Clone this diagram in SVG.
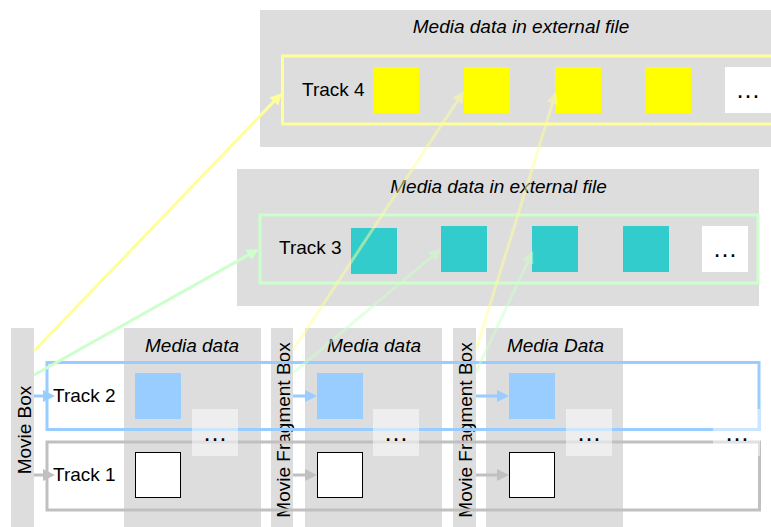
<svg xmlns="http://www.w3.org/2000/svg" width="771" height="527" viewBox="0 0 771 527">
  <style>
    .bg { fill: #dddddd; }
    .lbl { font-family: "Liberation Sans", Arial, sans-serif; font-size: 19px; fill: #000000; }
    .ttl { font-family: "Liberation Sans", Arial, sans-serif; font-size: 19px; font-style: italic; fill: #000000; text-anchor: middle; }
    .vert { font-family: "Liberation Sans", Arial, sans-serif; font-size: 19px; fill: #000000; text-anchor: middle; }
    .dots { font-family: "Liberation Sans", Arial, sans-serif; font-size: 25px; fill: #000000; text-anchor: middle; }
    .trk { fill: none; stroke-width: 3; }
    .y { fill: #ffff00; }
    .t { fill: #33cccc; }
    .b { fill: #99ccff; }
    .w { fill: #ffffff; stroke: #000000; stroke-width: 1; }
    .more { fill: #ffffff; opacity: 0.5; }
    .ln { fill: none; stroke-width: 3; }
  </style>
  <defs>
    <marker id="ah-yellow" viewBox="0 0 12 12" refX="4" refY="6" markerWidth="12" markerHeight="12" markerUnits="userSpaceOnUse" orient="auto">
      <path d="M0,0 L12,6 L0,12 z" fill="#ffff99"/>
    </marker>
    <marker id="ah-green" viewBox="0 0 12 12" refX="4" refY="6" markerWidth="12" markerHeight="12" markerUnits="userSpaceOnUse" orient="auto">
      <path d="M0,0 L12,6 L0,12 z" fill="#ccffcc"/>
    </marker>
    <marker id="ah-blue" viewBox="0 0 12 12" refX="4" refY="6" markerWidth="12" markerHeight="12" markerUnits="userSpaceOnUse" orient="auto">
      <path d="M0,0 L12,6 L0,12 z" fill="#99ccff"/>
    </marker>
    <marker id="ah-gray" viewBox="0 0 12 12" refX="4" refY="6" markerWidth="12" markerHeight="12" markerUnits="userSpaceOnUse" orient="auto">
      <path d="M0,0 L12,6 L0,12 z" fill="#c0c0c0"/>
    </marker>
  </defs>

  <!-- external file holding track 4 -->
  <g id="ext-file-4">
    <rect class="bg" x="260" y="10" width="520" height="137"/>
    <text class="ttl" x="521" y="33">Media data in external file</text>
  </g>
  <g id="track-4">
    <rect class="trk" x="282.5" y="56" width="520" height="68" stroke="#ffff99"/>
    <text class="lbl" x="302" y="96">Track 4</text>
    <rect class="y" x="373" y="67" width="46" height="46"/>
    <rect class="y" x="464" y="67" width="46" height="46"/>
    <rect class="y" x="555" y="67" width="46" height="46"/>
    <rect class="y" x="645" y="67" width="46" height="46"/>
    <rect fill="#ffffff" x="725" y="67" width="50" height="46"/>
    <text class="dots" x="748" y="98">…</text>
  </g>

  <!-- external file holding track 3 -->
  <g id="ext-file-3">
    <rect class="bg" x="237" y="169" width="522" height="137"/>
    <text class="ttl" x="498.5" y="193">Media data in external file</text>
  </g>
  <g id="track-3">
    <rect class="trk" x="260" y="215" width="498" height="68" stroke="#ccffcc"/>
    <text class="lbl" x="279" y="254">Track 3</text>
    <rect class="t" x="351" y="228" width="46" height="46"/>
    <rect class="t" x="441" y="226" width="46" height="46"/>
    <rect class="t" x="532" y="226" width="46" height="46"/>
    <rect class="t" x="623" y="226" width="46" height="46"/>
    <rect fill="#ffffff" x="702" y="226" width="46" height="46"/>
    <text class="dots" x="725" y="257">…</text>
  </g>

  <!-- movie box and fragment boxes -->
  <g id="movie-box">
    <rect class="bg" x="11" y="328" width="23" height="199"/>
    <text class="vert" transform="translate(31,430) rotate(-90)">Movie Box</text>
  </g>
  <g id="media-data-1">
    <rect class="bg" x="124" y="328" width="137" height="199"/>
    <text class="ttl" x="192" y="352">Media data</text>
  </g>
  <g id="fragment-box-1">
    <rect class="bg" x="271" y="328" width="22" height="199"/>
    <text class="vert" transform="translate(289.5,430) rotate(-90)">Movie Fragment Box</text>
  </g>
  <g id="media-data-2">
    <rect class="bg" x="305" y="328" width="137" height="199"/>
    <text class="ttl" x="374" y="352">Media data</text>
  </g>
  <g id="fragment-box-2">
    <rect class="bg" x="453" y="328" width="23" height="199"/>
    <text class="vert" transform="translate(472,430) rotate(-90)">Movie Fragment Box</text>
  </g>
  <g id="media-data-3">
    <rect class="bg" x="486" y="328" width="137" height="199"/>
    <text class="ttl" x="555.5" y="352">Media Data</text>
  </g>

  <!-- tracks 2 and 1 -->
  <g id="track-2">
    <rect class="trk" x="47" y="362.5" width="712" height="67" stroke="#99ccff"/>
    <text class="lbl" x="53" y="402">Track 2</text>
    <rect class="b" x="135" y="373" width="46" height="46"/>
    <rect class="b" x="317" y="373" width="46" height="46"/>
    <rect class="b" x="509" y="373" width="46" height="46"/>
  </g>
  <g id="track-1">
    <rect class="trk" x="47" y="442" width="712.5" height="68" stroke="#c0c0c0"/>
    <text class="lbl" x="53" y="481">Track 1</text>
    <rect class="w" x="135.5" y="452.5" width="45" height="45"/>
    <rect class="w" x="317.5" y="452.5" width="45" height="45"/>
    <rect class="w" x="509.5" y="452.5" width="45" height="45"/>
  </g>

  <!-- continuation marks between fragments -->
  <g id="continuation">
    <rect class="more" x="192" y="409" width="46" height="47"/>
    <text class="dots" x="215" y="441">…</text>
    <rect class="more" x="373" y="409" width="46" height="47"/>
    <text class="dots" x="396" y="441">…</text>
    <rect class="more" x="566" y="409" width="46" height="47"/>
    <text class="dots" x="589" y="441">…</text>
    <rect class="more" x="713" y="409" width="47" height="47"/>
    <text class="dots" x="737" y="441">…</text>
  </g>

  <!-- references from the boxes to the tracks and samples -->
  <g id="connectors">
    <path class="ln" d="M34,396 H47" stroke="#99ccff" marker-end="url(#ah-blue)"/>
    <path class="ln" d="M293,396 H309" stroke="#99ccff" marker-end="url(#ah-blue)"/>
    <path class="ln" d="M476,396 H501" stroke="#99ccff" marker-end="url(#ah-blue)"/>
    <path class="ln" d="M34,475 H47" stroke="#c0c0c0" marker-end="url(#ah-gray)"/>
    <path class="ln" d="M293,475 H309" stroke="#c0c0c0" marker-end="url(#ah-gray)"/>
    <path class="ln" d="M476,475 H501" stroke="#c0c0c0" marker-end="url(#ah-gray)"/>
    <path class="ln" d="M34,351 L276.5,98.8" stroke="#ffff99" marker-end="url(#ah-yellow)"/>
    <path class="ln" d="M34,375 L252,252.9" stroke="#ccffcc" marker-end="url(#ah-green)"/>
    <g opacity="0.5">
      <path class="ln" d="M293,350 L459.6,97.7" stroke="#ffff99" marker-end="url(#ah-yellow)"/>
      <path class="ln" d="M476,350 L553.6,99.6" stroke="#ffff99" marker-end="url(#ah-yellow)"/>
      <path class="ln" d="M293,373 L434.9,254.1" stroke="#ccffcc" marker-end="url(#ah-green)"/>
      <path class="ln" d="M476,372 L529.6,258.2" stroke="#ccffcc" marker-end="url(#ah-green)"/>
    </g>
  </g>
</svg>
